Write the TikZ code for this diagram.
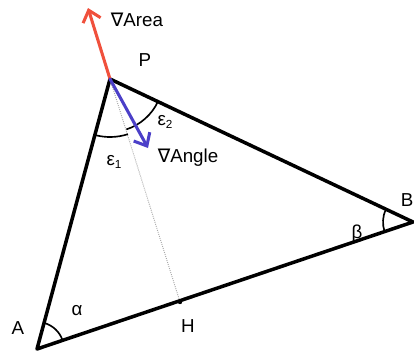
\documentclass[tikz,border=0pt]{standalone}
\usepackage{fontspec}
\setmainfont{Liberation Sans}
\newfontfamily\symfont{DejaVu Sans}
\usepackage{xcolor}
\usetikzlibrary{arrows.meta,positioning}
\definecolor{areared}{HTML}{F0503C}
\definecolor{angleblue}{HTML}{4B3FC8}
\definecolor{footgray}{HTML}{A8A8A8}
\tikzset{
  side/.style={line width=3pt,line join=round,draw=black},
  anglearc/.style={line width=1.4pt,draw=black},
  grad/.style={-{Straight Barb[length=3.2mm,width=5.5mm]},line width=2.6pt,line cap=round},
  foot/.style={draw=footgray,line width=0.8pt,densely dotted},
  lbl/.style={inner sep=0pt,font=\fontsize{16}{18}\selectfont}
}
\newcommand{\nab}{{\symfont\char"2207}}
\begin{document}
\begin{tikzpicture}[x=0.03cm,y=0.03cm]
  \useasboundingbox (0,0) rectangle (414,352);
  \coordinate (P) at (110,273);
  \coordinate (A) at (37,3);
  \coordinate (B) at (413,130);
  \coordinate (H) at (180,50);
  \coordinate (areatip) at (88,344);
  \coordinate (angletip) at (148,204);

  % height from P
  \draw[foot] (P) -- (H);

  % angle arcs
  \draw[anglearc] ([shift={(74.9:27)}]A) arc[start angle=74.9,end angle=18.7,radius=27];
  \draw[anglearc] ([shift={(154.7:30)}]B) arc[start angle=154.7,end angle=198.7,radius=30];
  \draw[anglearc] ([shift={(-105.1:58)}]P) arc[start angle=-105.1,end angle=-72,radius=58];
  \draw[anglearc] ([shift={(-72:53)}]P) arc[start angle=-72,end angle=-25.3,radius=53];

  \draw[side] (A) -- (B) -- (P) -- cycle;
  \fill (H) circle[radius=2.2];

  % gradients
  \draw[grad,areared] (P) -- (areatip);
  \draw[grad,angleblue] (P) -- (angletip);

  \node[lbl] (arealbl) at (137,332) {\nab Area};
  \node[lbl] (anglelbl) at (188,194) {\nab Angle};
  \node[lbl] (plbl) at (145,292) {P};
  \node[lbl] (alabel) at (18,24) {A};
  \node[lbl] (blabel) at (407,152) {B};
  \node[lbl] (hlbl) at (188,26) {H};
  \node[lbl] (alpha) at (77,41) {α};
  \node[lbl] (beta) at (357,118) {β};
  \node[lbl] (eps1) at (114,190) {ε\raisebox{-0.35ex}{\fontsize{10}{12}\selectfont 1}};
  \node[lbl] (eps2) at (165,230) {ε\raisebox{-0.35ex}{\fontsize{10}{12}\selectfont 2}};
\end{tikzpicture}
\end{document}
